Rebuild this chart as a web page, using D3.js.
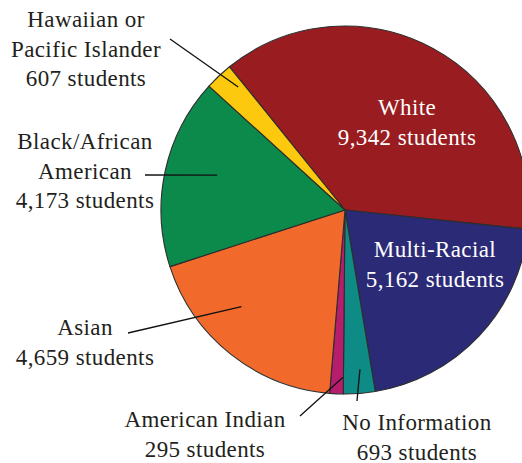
<!DOCTYPE html>
<html>
<head>
<meta charset="utf-8">
<script src="https://cdn.jsdelivr.net/npm/d3@7"></script>
<style>
body{margin:0;background:#fff;}
</style>
</head>
<body>
<svg id="chart" width="522" height="463"></svg>
<script>
// data
const categories = ["White","Multi-Racial","No Information","American Indian","Asian","Black/African American","Hawaiian or Pacific Islander"];
const students = [9342,5162,693,295,4659,4173,607];
const colors = ["#981c20","#2b2a77","#0e8b84","#b61d6c","#f26a2b","#0c8a4b","#fcc90f"];
// label lines for each slice
const labelLines = [
	["White","9,342 students"],
	["Multi-Racial","5,162 students"],
	["No Information","693 students"],
	["American Indian","295 students"],
	["Asian","4,659 students"],
	["Black/African","American","4,173 students"],
	["Hawaiian or","Pacific Islander","607 students"]
];

const svg = d3.select("#chart");
const cx = 345, cy = 210, r = 184;
const startDeg = -38.9;

const pie = d3.pie().sort(null).value(d=>d)
	.startAngle(startDeg*Math.PI/180)
	.endAngle((startDeg+360)*Math.PI/180);
const arcs = pie(students);
const arc = d3.arc().innerRadius(0).outerRadius(r);

const g = svg.append("g").attr("transform",`translate(${cx},${cy})`);
g.selectAll("path")
	.data(arcs)
	.enter()
	.append("path")
	.attr("d",arc)
	.attr("fill",(d,i)=>colors[i])
	.attr("stroke","#2d2d2d")
	.attr("stroke-width",1.1)
	.attr("stroke-linejoin","round");

// label placement: text centre x, first baseline y, leader start, end radius factor, angle offset (deg)
const labelPos = [
	{x:407,y:115,inside:true},
	{x:435,y:257,inside:true},
	{x:417,y:430,lx:357,ly:401,k:0.87,off:-0.9},
	{x:205,y:427,lx:300,ly:416,k:0.91,off:-1.9},
	{x:85,y:335,lx:128,ly:333,k:0.77,off:8.5},
	{x:85,y:149,lx:145,ly:175,k:0.72,off:3.1},
	{x:86,y:27,lx:170,ly:39,k:0.885,off:2.3}
];
const lh = 29.5;

arcs.forEach((a,i)=>{
	const p = labelPos[i];
	if(!p.inside){
		const mid = (a.startAngle+a.endAngle)/2 + p.off*Math.PI/180;
		const ex = cx + Math.sin(mid)*r*p.k;
		const ey = cy - Math.cos(mid)*r*p.k;
		svg.append("line")
			.attr("x1",p.lx).attr("y1",p.ly)
			.attr("x2",ex).attr("y2",ey)
			.attr("stroke","#111")
			.attr("stroke-width",1.3);
	}
	labelLines[i].forEach((s,j)=>{
		svg.append("text")
			.attr("x",p.x)
			.attr("y",p.y+j*lh)
			.attr("text-anchor","middle")
			.style("font-family","\"Liberation Serif\"")
			.style("font-size","23px")
			.style("letter-spacing","0.4px")
			.style("fill",p.inside?"#ffffff":"#231f20")
			.text(s);
	});
});
</script>
</body>
</html>
